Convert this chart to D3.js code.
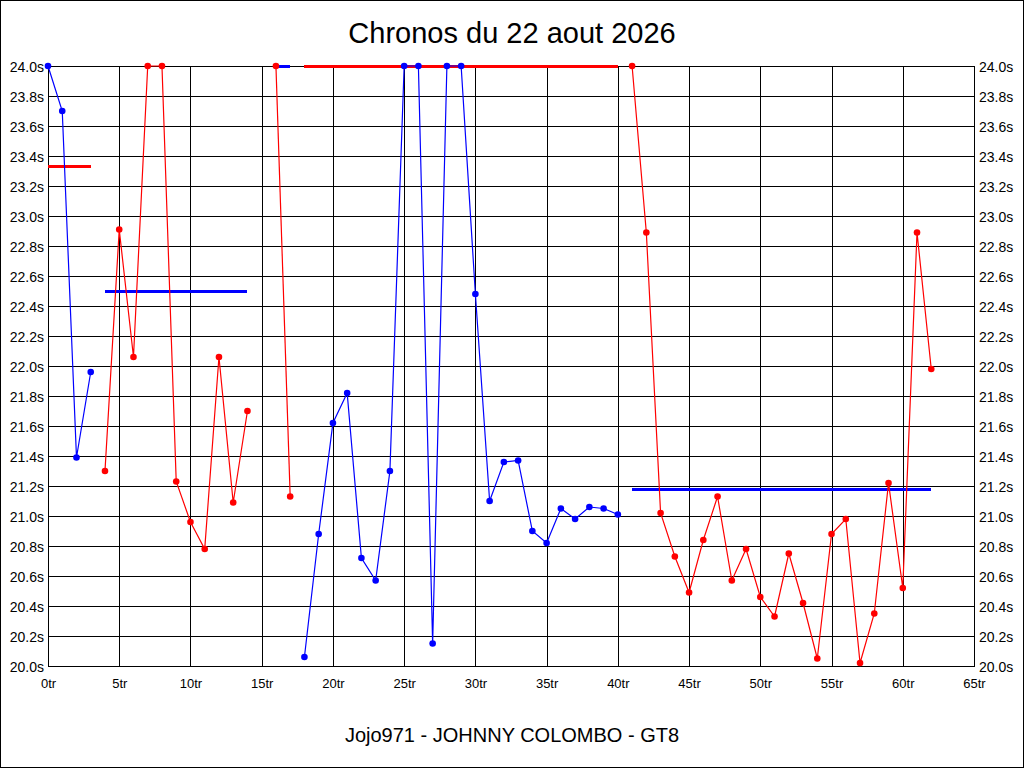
<!DOCTYPE html>
<html>
<head>
<meta charset="utf-8">
<script src="https://cdn.jsdelivr.net/npm/d3@7"></script>
<style>
  body { margin: 0; background: #fff; }
  text { font-family: "Liberation Sans", Arial, sans-serif; fill: #000; }
</style>
</head>
<body>
<script>
// lap times in seconds, one array per stint (values above 24s are shown at 24s)
var blue1 = [24.0, 23.70, 21.39, 21.96];                       // laps 0-3
var red1  = [21.30, 22.91, 22.06, 24.0, 24.0, 21.23, 20.96,
             20.78, 22.06, 21.09, 21.70];                      // laps 4-14
var red2  = [24.0, 21.13];                                      // laps 16-17
var blue2 = [20.06, 20.88, 21.62, 21.82, 20.72, 20.57, 21.30, 24.0,
             24.0, 20.15, 24.0, 24.0, 22.48, 21.10, 21.36, 21.37,
             20.90, 20.82, 21.05, 20.98, 21.06, 21.05, 21.01]; // laps 18-40
var red3  = [24.0, 22.89, 21.02, 20.73, 20.49, 20.84, 21.13, 20.57,
             20.78, 20.46, 20.33, 20.75, 20.42, 20.05, 20.88, 20.98,
             20.02, 20.35, 21.22, 20.52, 22.89, 21.98];        // laps 41-62

var stintStart = [0, 4, 16, 18, 41];
var stintColor = ["blue", "red", "red", "blue", "red"];
var stintTimes = [blue1, red1, red2, blue2, red3];

// stint averages (drawn in the other colour)
var avgTimes = [23.33, 22.50, 24.0, 24.0, 21.18];
var avgColor = ["red", "blue", "blue", "red", "blue"];

var xTicks = [0, 5, 10, 15, 20, 25, 30, 35, 40, 45, 50, 55, 60, 65];
var yTicks = [20.0, 20.2, 20.4, 20.6, 20.8, 21.0, 21.2, 21.4, 21.6, 21.8,
              22.0, 22.2, 22.4, 22.6, 22.8, 23.0, 23.2, 23.4, 23.6, 23.8, 24.0];

var title = "Chronos du 22 aout 2026";
var subtitle = "Jojo971 - JOHNNY COLOMBO - GT8";

var W = 1024, H = 768;
var margin = {top: 66, right: 50, bottom: 102, left: 48},
    width = W - margin.left - margin.right,
    height = H - margin.top - margin.bottom;

var svg = d3.select("body").append("svg")
    .attr("width", W)
    .attr("height", H);

svg.append("rect")
    .attr("x", 0.5).attr("y", 0.5)
    .attr("width", W - 1).attr("height", H - 1)
    .attr("fill", "#fff").attr("stroke", "#000");

var x = d3.scaleLinear().domain([0, 65]).range([0, width]);
var y = d3.scaleLinear().domain([20, 24]).range([height, 0]);

var g = svg.append("g")
    .attr("transform", "translate(" + margin.left + "," + margin.top + ")");

// grid + axes
var xAxis = g.append("g")
    .attr("transform", "translate(0," + height + ")")
    .call(d3.axisBottom(x).tickValues(xTicks).tickSize(-height).tickPadding(13)
        .tickFormat(function(d) { return d + "tr"; }));

var yAxisL = g.append("g")
    .call(d3.axisLeft(y).tickValues(yTicks).tickSize(-width).tickPadding(4)
        .tickFormat(function(d) { return d.toFixed(1) + "s"; }));

var yAxisR = g.append("g")
    .attr("transform", "translate(" + width + ",0)")
    .call(d3.axisRight(y).tickValues(yTicks).tickSize(0).tickPadding(5)
        .tickFormat(function(d) { return d.toFixed(1) + "s"; }));

[xAxis, yAxisL, yAxisR].forEach(function(a) {
    a.selectAll("path, line").attr("stroke", "#000").attr("shape-rendering", "crispEdges");
    a.selectAll("text").attr("fill", "#000").style("font-family", '"Liberation Sans", Arial, sans-serif');
});
xAxis.selectAll("text").style("font-size", "13px");
yAxisL.selectAll("text").style("font-size", "14px").attr("dy", "0.4em");
yAxisR.selectAll("text").style("font-size", "14px").attr("dy", "0.4em");

// average lines
var avgData = avgTimes.map(function(v, i) {
    return {v: v, c: avgColor[i], a: stintStart[i], b: stintStart[i] + stintTimes[i].length - 1};
});
g.selectAll(".avg")
    .data(avgData)
  .enter().append("line")
    .attr("class", "avg")
    .attr("x1", function(d) { return x(d.a); })
    .attr("x2", function(d) { return x(d.b); })
    .attr("y1", function(d) { return y(d.v); })
    .attr("y2", function(d) { return y(d.v); })
    .attr("stroke", function(d) { return d.c; })
    .attr("stroke-width", 3)
    .attr("shape-rendering", "crispEdges");

// stints
var line = d3.line()
    .x(function(d) { return x(d.lap); })
    .y(function(d) { return y(d.t); });

stintTimes.forEach(function(times, i) {
    var pts = times.map(function(t, k) { return {lap: stintStart[i] + k, t: t}; });
    g.append("path")
        .datum(pts)
        .attr("fill", "none")
        .attr("stroke", stintColor[i])
        .attr("stroke-width", 1.2)
        .attr("d", line);
    g.selectAll(".pt" + i)
        .data(pts)
      .enter().append("circle")
        .attr("class", "pt" + i)
        .attr("cx", function(d) { return x(d.lap); })
        .attr("cy", function(d) { return y(d.t); })
        .attr("r", 3.3)
        .attr("fill", stintColor[i]);
});

// titles
svg.append("text")
    .attr("x", W / 2).attr("y", 43)
    .attr("text-anchor", "middle")
    .style("font-size", "29px")
    .text(title);

svg.append("text")
    .attr("x", W / 2).attr("y", 742)
    .attr("text-anchor", "middle")
    .style("font-size", "20px")
    .text(subtitle);
</script>
</body>
</html>
